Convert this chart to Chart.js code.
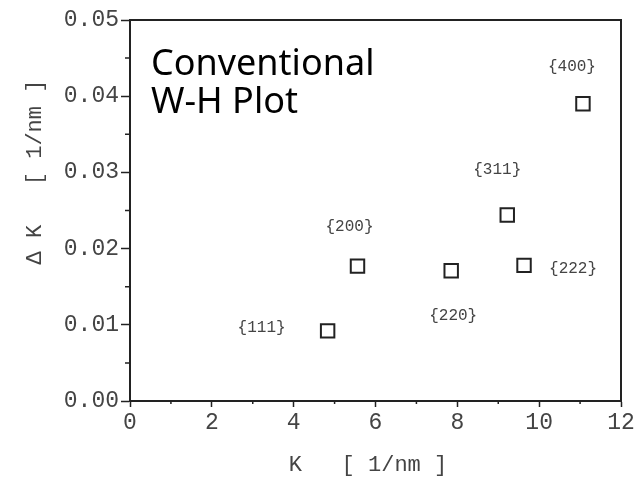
<!DOCTYPE html>
<html>
<head>
<meta charset="utf-8">
<script src="https://cdn.jsdelivr.net/npm/chart.js@4/dist/chart.umd.min.js"></script>
<style>
  body { margin: 0; background: #fff; }
  canvas { display: block; }
</style>
</head>
<body>
<canvas id="wh-chart" width="637" height="479"></canvas>
<script>
// reflection planes and values
var planes = ['{111}', '{200}', '{220}', '{311}', '{222}', '{400}'];
var kValues = [4.83, 5.56, 7.85, 9.22, 9.63, 11.07];
var deltaK = [0.0092, 0.0177, 0.0171, 0.0244, 0.0178, 0.0390];

var xTicks = [0, 2, 4, 6, 8, 10, 12];
var yTicks = [0, 0.01, 0.02, 0.03, 0.04, 0.05];

var plotTitle = ['Conventional', 'W-H Plot'];
var xTitle = 'K   [ 1/nm ]';
var yTitle = '\u0394 K   [ 1/nm ]';

// pixel offset of each plane label from its marker
var labelOffsets = [[-66, -3], [-8, -39], [2, 45], [-10, -45], [49, 3], [-11, -37]];

var monoFont = '"Liberation Mono", "DejaVu Sans Mono", monospace';
var inkColor = '#222';
var greyText = '#444';

var points = [];
for (var i = 0; i < kValues.length; i++) {
	points.push({ x: kValues[i], y: deltaK[i] });
}

var decorPlugin = {
	id: 'decor',
	afterDatasetsDraw: function (chart) {
		var c = chart.ctx;
		var area = chart.chartArea;
		var xs = chart.scales.x;
		var ys = chart.scales.y;
		c.save();

		// top and right frame lines
		c.strokeStyle = inkColor;
		c.lineWidth = 2;
		c.beginPath();
		c.moveTo(area.left, area.top);
		c.lineTo(area.right, area.top);
		c.lineTo(area.right, area.bottom);
		c.stroke();

		// minor ticks
		c.lineWidth = 1.5;
		c.beginPath();
		for (var i = 0; i < xTicks.length - 1; i++) {
			var mx = xs.getPixelForValue((xTicks[i] + xTicks[i + 1]) / 2);
			c.moveTo(mx, area.bottom);
			c.lineTo(mx, area.bottom + 3);
		}
		for (var j = 0; j < yTicks.length - 1; j++) {
			var my = ys.getPixelForValue((yTicks[j] + yTicks[j + 1]) / 2);
			c.moveTo(area.left, my);
			c.lineTo(area.left - 5, my);
		}
		c.stroke();

		// plane labels
		c.fillStyle = greyText;
		c.font = '16px ' + monoFont;
		c.textAlign = 'center';
		c.textBaseline = 'middle';
		for (var k = 0; k < planes.length; k++) {
			var px = xs.getPixelForValue(kValues[k]) + labelOffsets[k][0];
			var py = ys.getPixelForValue(deltaK[k]) + labelOffsets[k][1];
			c.fillText(planes[k], px, py);
		}

		// axis titles
		c.font = '22px ' + monoFont;
		c.fillText(xTitle, 368, 465);
		c.save();
		c.translate(35, 172);
		c.rotate(-Math.PI / 2);
		c.fillText(yTitle, 0, 0);
		c.restore();

		// plot title
		c.fillStyle = '#000';
		c.font = '36px "Noto Sans", sans-serif';
		c.textAlign = 'left';
		c.textBaseline = 'alphabetic';
		c.fillText(plotTitle[0], 151, 75);
		c.fillText(plotTitle[1], 151, 113);
		c.restore();
	}
};

var ctx = document.getElementById('wh-chart').getContext('2d');
var myChart = new Chart(ctx, {
	type: 'scatter',
	data: {
		datasets: [
			{
				label: 'W-H',
				data: points,
				pointStyle: 'rect',
				pointRadius: 9.5,
				borderWidth: 2,
				borderColor: inkColor,
				backgroundColor: 'rgba(0,0,0,0)'
			}
		]
	},
	options: {
		responsive: false,
		animation: false,
		events: [],
		layout: { padding: { top: 20, right: 16, left: 0, bottom: 0 } },
		plugins: {
			legend: { display: false },
			tooltip: { enabled: false }
		},
		scales: {
			x: {
				type: 'linear',
				min: 0,
				max: 12,
				afterFit: function (scale) { scale.height = 78; },
				afterBuildTicks: function (scale) {
					scale.ticks = xTicks.map(function (v) { return { value: v }; });
				},
				ticks: {
					color: greyText,
					padding: 2,
					font: { family: monoFont, size: 23 },
					callback: function (v) { return v; }
				},
				grid: { drawOnChartArea: false, drawTicks: true, tickLength: 6, tickColor: inkColor, tickWidth: 1.5 },
				border: { display: true, color: inkColor, width: 2 }
			},
			y: {
				type: 'linear',
				min: 0,
				max: 0.05,
				afterFit: function (scale) { scale.width = 130; },
				afterBuildTicks: function (scale) {
					scale.ticks = yTicks.map(function (v) { return { value: v }; });
				},
				ticks: {
					color: greyText,
					padding: 2,
					font: { family: monoFont, size: 23 },
					callback: function (v) { return v.toFixed(2); }
				},
				grid: { drawOnChartArea: false, drawTicks: true, tickLength: 9, tickColor: inkColor, tickWidth: 1.5 },
				border: { display: true, color: inkColor, width: 2 }
			}
		}
	},
	plugins: [decorPlugin]
});
</script>
</body>
</html>
